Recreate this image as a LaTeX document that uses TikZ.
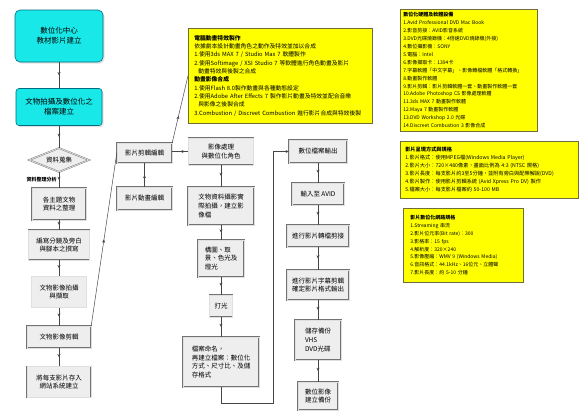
\documentclass[tikz,border=0pt]{standalone}
\usepackage{fontspec}
\setmainfont{Noto Sans CJK TC}
\usetikzlibrary{shapes.geometric,arrows.meta,decorations.markings,shadows}
\definecolor{cyanfill}{RGB}{25,232,232}
\definecolor{cyanline}{RGB}{0,110,130}
\definecolor{yel}{RGB}{255,255,0}
\definecolor{yelline}{RGB}{110,110,60}
\definecolor{boxfill}{RGB}{238,238,238}
\definecolor{boxline}{RGB}{115,115,115}
\definecolor{conncol}{RGB}{70,70,70}
\begin{document}
\begin{tikzpicture}[x=1pt,y=-1pt,
  cyanbox/.style={draw=cyanline, line width=0.6pt, fill=cyanfill, rounded corners=5pt,
    drop shadow={shadow xshift=1.6pt, shadow yshift=-1.6pt, fill=gray!45},
    align=center, font=\fontsize{7.5}{10}\selectfont, inner sep=2pt},
  graybox/.style={draw=boxline, line width=0.4pt, double=gray!25, double distance=0.8pt,
    fill=boxfill, align=center, font=\fontsize{6.5}{8.6}\selectfont, inner sep=1.5pt},
  dia/.style={graybox, shape=diamond, shape aspect=2.5, inner sep=0pt},
  yelbox/.style={draw=yelline, line width=0.5pt, fill=yel, align=left, inner ysep=3pt},
  midarrow/.style={postaction={decorate, decoration={markings,
    mark=at position #1 with {\arrow{Stealth[length=3.2pt,width=3pt]}}}}},
  conn/.style={draw=conncol, line width=0.5pt, midarrow=0.5},
  lbl/.style={font=\fontsize{5}{6}\selectfont\bfseries, inner sep=1pt}
]
\useasboundingbox (0,0) rectangle (581,415);
\fill[white] (0,0) rectangle (581,415);

% ---------- left column ----------
\node[cyanbox, minimum width=88pt, minimum height=52pt] (c1) at (59,36) {數位化中心\\教材影片建立};
\node[cyanbox, rounded corners=3pt, minimum width=86pt, minimum height=37pt] (c2) at (59,107) {文物拍攝及數位化之\\檔案建立};
\node[dia, minimum width=60pt, minimum height=24pt] (d) at (59,160) {資料蒐集};
\node[graybox, minimum width=54pt, minimum height=32pt] (b1) at (59,204) {各主題文物\\資料之整理};
\node[graybox, minimum width=61pt, minimum height=30pt] (b2) at (59,245) {編寫分鏡及旁白\\與腳本之撰寫};
\node[graybox, minimum width=55pt, minimum height=31pt] (b3) at (59,292) {文物影像拍攝\\與擷取};
\node[graybox, minimum width=64pt, minimum height=22pt] (b4) at (59,337) {文物影像剪輯};
\node[graybox, minimum width=64pt, minimum height=31pt] (b5) at (59,382) {將每支影片存入\\網站系統建立};

% ---------- second column ----------
\node[graybox, minimum width=55pt, minimum height=20pt] (e1) at (144.5,153) {影片剪輯編輯};
\node[graybox, minimum width=55pt, minimum height=23pt] (e2) at (144.5,198.5) {影片動畫編輯};

% ---------- third column ----------
\node[graybox, minimum width=65pt, minimum height=27pt] (t1) at (221,151.5) {影像處理\\與數位化角色};
\node[graybox, align=left, minimum width=66pt, minimum height=38pt] (t2) at (221,206) {文物資料攝影實\\際拍攝，建立影\\像檔};
\node[graybox, align=left, minimum width=46pt, minimum height=37pt] (t3) at (221,258.5) {構圖、取\\景、色光及\\燈光};
\node[graybox, minimum width=23pt, minimum height=22pt] (t4) at (221,306) {打光};
\node[graybox, align=left, minimum width=76pt, minimum height=50pt] (t5) at (221,362) {檔案命名，\\再建立檔案：數位化\\方式、尺寸比、及儲\\存格式};

% ---------- fourth column ----------
\node[graybox, minimum width=58pt, minimum height=23pt] (f1) at (318,151.5) {數位檔案輸出};
\node[graybox, minimum width=52pt, minimum height=22pt] (f2) at (318,194) {輸入至 AVID};
\node[graybox, minimum width=62pt, minimum height=22pt] (f3) at (318,236) {進行影片轉檔剪接};
\node[graybox, minimum width=62pt, minimum height=30pt] (f4) at (318,285) {進行影片字幕剪輯\\確定影片格式輸出};
\node[graybox, align=left, minimum width=46pt, minimum height=40pt] (f5) at (318,340) {儲存備份\\VHS\\DVD光碟};
\node[graybox, minimum width=40pt, minimum height=28pt] (f6) at (318,396) {數位影像\\建立備份};

% ---------- yellow boxes ----------
\node[yelbox, anchor=north west, inner xsep=6pt, text width=172pt, minimum height=95pt,
  font=\fontsize{5.8}{8.3}\selectfont] (Y1) at (188,28) {%
{\bfseries 電腦動畫特效製作}\\
依據劇本設計動畫角色之動作及特效並加以合成\\
1.使用3ds MAX 7 / Studio Max 7 軟體製作\\
2.使用Softimage / XSI Studio 7 等軟體進行角色動畫及影片\\
\hspace*{4pt}動畫特效與後製之合成\\
{\bfseries 動畫影像合成}\\
1.使用Flash 8.0製作動畫與各種動態設定\\
2.使用Adobe After Effects 7 製作影片動畫及特效並配合音樂\\
\hspace*{4pt}與影像之後製合成\\
3.Combustion / Discreet Combustion 進行影片合成與特效後製};

\node[yelbox, anchor=north west, inner xsep=3pt, text width=131pt, minimum height=122pt,
  font=\fontsize{5}{7.9}\selectfont] (R1) at (400,9) {%
{\bfseries 數位化硬體及軟體設備}\\
1.Avid Professional DVD Mac Book\\
2.影音剪接：AVID影音系統\\
3.DVD光碟燒錄機：4倍速DVD燒錄機(外接)\\
4.數位攝影機：SONY\\
5.電腦：Intel\\
6.影像擷取卡：1394卡\\
7.字幕軟體「中文字幕」、影像轉檔軟體「格式轉換」\\
8.動畫製作軟體\\
9.影片剪輯：影片剪輯軟體一套、動畫製作軟體一套\\
10.Adobe Photoshop CS 影像處理軟體\\
11.3ds MAX 7 動畫製作軟體\\
12.Maya 7 動畫製作軟體\\
13.DVD Workshop 2.0 光碟\\
14.Discreet Combustion 3 影像合成};

\node[yelbox, anchor=north west, inner xsep=5pt, text width=168pt, minimum height=57pt,
  font=\fontsize{5.2}{8}\selectfont] (R2) at (400,141) {%
{\bfseries 影片呈現方式與規格}\\
1.影片格式：使用MPEG檔(Windows Media Player)\\
2.影片大小：720×480像素，畫面比例為 4:3 (NTSC 規格)\\
3.影片長度：每支影片約3至5分鐘，並附有旁白與配樂解說(DVD)\\
4.影片製作：使用影片剪輯系統 (Avid Xpress Pro DV) 製作\\
5.檔案大小：每支影片檔案約 50-100 MB};

\node[yelbox, anchor=north west, inner xsep=7pt, text width=106pt, minimum height=74pt,
  font=\fontsize{5}{7.8}\selectfont] (R3) at (403,208) {%
{\bfseries 影片數位化網路規格}\\
1.Streaming 串流\\
2.影片位元率(Bit rate)：300\\
3.影格率：15 fps\\
4.解析度：320×240\\
5.影像壓縮：WMV 9 (Windows Media)\\
6.音訊格式：44.1kHz、16位元、立體聲\\
7.影片長度：約 5-10 分鐘};

% ---------- connectors ----------
\draw[conn] (c1) -- (c2);
\draw[conn] (c2) -- (d);
\draw[conn] (d) -- (b1) node[midway, left=1pt, lbl] (lb) {資料整理分析};
\draw[conn] (b1) -- (b2);
\draw[conn] (b2) -- (b3);
\draw[conn] (b3) -- (b4);
\draw[conn] (b4) -- (b5);
\draw[conn] (b4.north east) -- (e1.west);
\draw[conn] (e2) -- (e1);
\draw[draw=conncol, line width=0.5pt, midarrow=0.4] (e1.north east) -- (Y1.west);
\draw[conn] (t1.west) -- (t1.west -| e1.east);
\draw[conn] (t1) -- (t2);
\draw[conn] (t2) -- (t3);
\draw[conn] (t3) -- (t4);
\draw[conn] (t4) -- (t5);
\coordinate (r1) at (273,403);
\draw[draw=conncol, line width=0.5pt, -{Stealth[length=3.2pt,width=3pt]}] (t5.south) |- (r1) |- (f1.west);
\draw[conn] (f1) -- (f2);
\draw[conn] (f2) -- (f3);
\draw[conn] (f3) -- (f4);
\draw[conn] (f4) -- (f5);
\draw[conn] (f5) -- (f6);
\end{tikzpicture}
\end{document}
